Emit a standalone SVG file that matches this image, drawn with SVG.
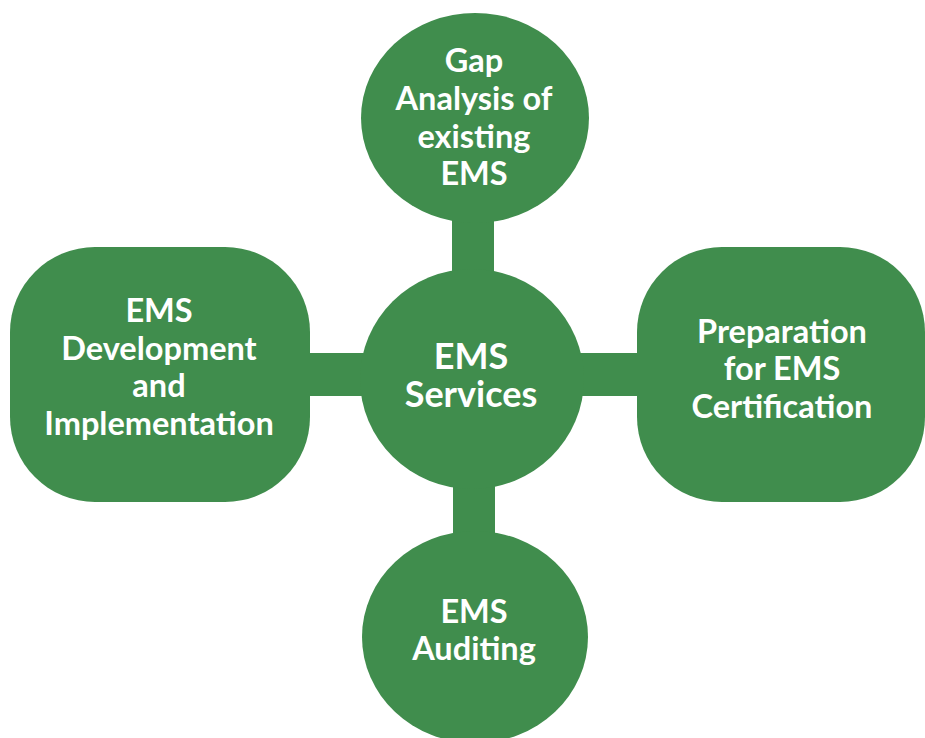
<svg xmlns="http://www.w3.org/2000/svg" width="925" height="738" viewBox="0 0 925 738">
<style>
.n{fill:#408d4d}
.t{fill:#fff;font-family:Lato,"Liberation Sans",sans-serif;font-weight:bold;font-size:32.5px;text-anchor:middle}
.c{font-size:36px}
</style>
<rect width="925" height="738" fill="#fff"/>
<g id="connectors" class="n">
<rect x="452" y="200" width="42" height="80"/>
<rect x="453" y="470" width="42" height="75"/>
<rect x="300" y="353" width="75" height="43"/>
<rect x="570" y="353" width="75" height="43"/>
</g>
<g id="top">
<ellipse class="n" cx="475" cy="118" rx="114" ry="105"/>
<text class="t"><tspan x="474" y="72">Gap</tspan><tspan x="474" y="110">Analysis of</tspan><tspan x="474" y="148">existing</tspan><tspan x="474" y="185">EMS</tspan></text>
</g>
<g id="center">
<ellipse class="n" cx="472" cy="379" rx="112" ry="110"/>
<text class="t c" x="471" y="369">EMS</text>
<text class="t c" x="471" y="407">Services</text>
</g>
<g id="left">
<rect class="n" x="10" y="247" width="300" height="255" rx="85" ry="85"/>
<text class="t"><tspan x="159" y="322">EMS</tspan><tspan x="159" y="360">Development</tspan><tspan x="159" y="397">and</tspan><tspan x="159" y="435">Implementation</tspan></text>
</g>
<g id="right">
<rect class="n" x="637" y="247" width="288" height="255" rx="85" ry="85"/>
<text class="t"><tspan x="782" y="343">Preparation</tspan><tspan x="782" y="380">for EMS</tspan><tspan x="782" y="418">Certification</tspan></text>
</g>
<g id="bottom">
<ellipse class="n" cx="475" cy="637" rx="113" ry="106"/>
<text class="t"><tspan x="474" y="623">EMS</tspan><tspan x="474" y="660">Auditing</tspan></text>
</g>
</svg>
